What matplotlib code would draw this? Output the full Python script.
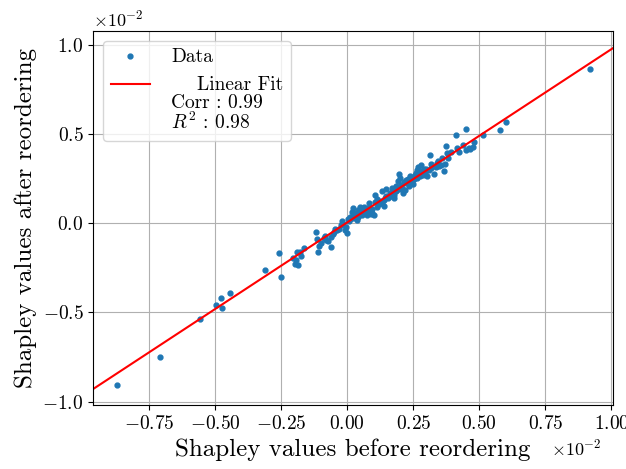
import numpy as np
import matplotlib
matplotlib.use('Agg')
import matplotlib.pyplot as plt
import matplotlib.ticker as mtick
from matplotlib.legend_handler import HandlerLine2D

plt.rcParams['font.family'] = 'serif'
plt.rcParams['font.serif'] = ['cmr10']
plt.rcParams['mathtext.fontset'] = 'cm'
plt.rcParams['axes.formatter.use_mathtext'] = True
plt.rcParams['axes.unicode_minus'] = True

# shapley values, in units of 1e-2
antes = [0.920, -0.873, -0.708, -0.557, -0.497, -0.480, -0.476, -0.446, -0.310, -0.258,
         -0.253, -0.205, -0.200, -0.194, -0.185, -0.189, -0.180, -0.175, -0.165, -0.118,
         -0.115, -0.111, -0.107, -0.084, -0.081, -0.072, -0.063, -0.060, -0.051, -0.047,
         -0.032, -0.019, -0.015, -0.010, -0.003, -0.006, 0.003, 0.010, 0.016, 0.023,
         0.025, 0.029, 0.036, 0.042, 0.049, 0.055, 0.062, 0.069, 0.075, 0.081,
         0.088, 0.095, 0.101, 0.106, 0.111, 0.114, 0.121, 0.127, 0.133, 0.140,
         0.142, 0.147, 0.153, 0.160, 0.165, 0.168, 0.172, 0.178, 0.185, 0.191,
         0.195, 0.198, 0.204, 0.211, 0.217, 0.224, 0.230, 0.234, 0.237, 0.243,
         0.250, 0.254, 0.259, 0.264, 0.269, 0.275, 0.280, 0.282, 0.289, 0.295,
         0.301, 0.312, 0.308, 0.318, 0.327, 0.334, 0.344, 0.353, 0.360, 0.366,
         0.370, 0.375, 0.379, 0.383, 0.412, 0.416, 0.422, 0.438, 0.448, 0.451,
         0.459, 0.466, 0.474, 0.479, 0.513, 0.580, 0.600,
         0.005, 0.012, 0.020, 0.031, 0.040, 0.058, 0.066, 0.078, 0.092, 0.104,
         0.118, 0.131, 0.145, 0.157, 0.170, 0.183, 0.196, 0.208, 0.221, 0.240,
         0.256, 0.272, 0.286, 0.298, 0.315, 0.338, -0.025, -0.040, -0.055, -0.090,
         -0.098, 0.046, 0.086, 0.138, 0.176, 0.214, 0.262, 0.292, 0.348, 0.394]
depois = [0.867, -0.907, -0.751, -0.535, -0.456, -0.417, -0.473, -0.391, -0.262, -0.168,
          -0.303, -0.193, -0.230, -0.206, -0.236, -0.164, -0.159, -0.183, -0.140, -0.052,
          -0.086, -0.164, -0.127, -0.069, -0.093, -0.101, -0.131, -0.075, -0.047, -0.034,
          -0.030, 0.011, -0.004, -0.037, -0.056, -0.019, 0.022, 0.037, 0.065, 0.084,
          0.060, 0.037, 0.019, 0.075, 0.090, 0.047, 0.093, 0.065, 0.047, 0.112,
          0.050, 0.056, 0.047, 0.159, 0.135, 0.093, 0.108, 0.127, 0.178, 0.097,
          0.140, 0.191, 0.140, 0.168, 0.150, 0.196, 0.168, 0.144, 0.209, 0.234,
          0.277, 0.252, 0.215, 0.172, 0.187, 0.224, 0.247, 0.206, 0.262, 0.234,
          0.221, 0.249, 0.280, 0.299, 0.318, 0.262, 0.327, 0.290, 0.303, 0.280,
          0.262, 0.383, 0.299, 0.308, 0.275, 0.318, 0.351, 0.327, 0.364, 0.290,
          0.333, 0.434, 0.393, 0.364, 0.495, 0.421, 0.402, 0.439, 0.531, 0.411,
          0.421, 0.415, 0.430, 0.458, 0.495, 0.520, 0.570,
          0.010, 0.025, 0.030, 0.045, 0.035, 0.070, 0.058, 0.085, 0.082, 0.118,
          0.120, 0.115, 0.150, 0.155, 0.175, 0.180, 0.190, 0.200, 0.240, 0.225,
          0.268, 0.285, 0.270, 0.305, 0.330, 0.340, -0.010, -0.040, -0.060, -0.085,
          -0.110, 0.060, 0.075, 0.130, 0.160, 0.230, 0.255, 0.300, 0.322, 0.400]

# reta ajustada (unidades 1e-2)
inclinacao = 0.971
intercepto = 0.005
limitesX = (-0.962, 1.0045)
limitesY = (-1.022, 1.078)

textoCorr = 'Corr : 0.99'
textoR2 = '$R^2$ : 0.98'


class HandlerLinhaTopo(HandlerLine2D):
    # coloca a linha da legenda na primeira linha do texto
    def create_artists(self, legend, orig_handle, xdescent, ydescent, width, height, fontsize, trans):
        artistas = super().create_artists(legend, orig_handle, xdescent, ydescent, width, height, fontsize, trans)
        for a in artistas:
            a.set_ydata(np.asarray(a.get_ydata()) + 1.05 * fontsize)
        return artistas


escala = 1e-2
x = np.array(antes) * escala
y = np.array(depois) * escala

fig, ax = plt.subplots(figsize=(6.26, 4.69), dpi=100)
fig.subplots_adjust(left=0.149, right=0.9786, bottom=0.1354, top=0.934)

ax.plot(x, y, '.', color='#1f77b4', markersize=7, label='Data')
xLinha = np.array(limitesX) * escala
linhaFit, = ax.plot(xLinha, inclinacao * xLinha + intercepto * escala, color='red',
                    label='    Linear Fit\n' + textoCorr + '\n' + textoR2)

ax.set_xlim(xLinha)
ax.set_ylim(np.array(limitesY) * escala)
ax.xaxis.set_major_locator(mtick.MultipleLocator(0.25e-2))
ax.yaxis.set_major_locator(mtick.MultipleLocator(0.5e-2))
ax.ticklabel_format(style='sci', axis='both', scilimits=(0, 0))
ax.grid(True)
ax.tick_params(labelsize=14)
ax.xaxis.get_offset_text().set_fontsize(13)
ax.yaxis.get_offset_text().set_fontsize(13)
ax.xaxis.get_offset_text().set_x(0.978)

ax.set_xlabel('Shapley values before reordering', fontsize=18)
ax.set_ylabel('Shapley values after reordering', fontsize=18)

leg = ax.legend(loc='upper left', fontsize=14, handletextpad=1.1,
                handler_map={linhaFit: HandlerLinhaTopo()})
for t in leg.get_texts():
    t.set_linespacing(1.0)

fig.savefig('out.png', dpi=100)
